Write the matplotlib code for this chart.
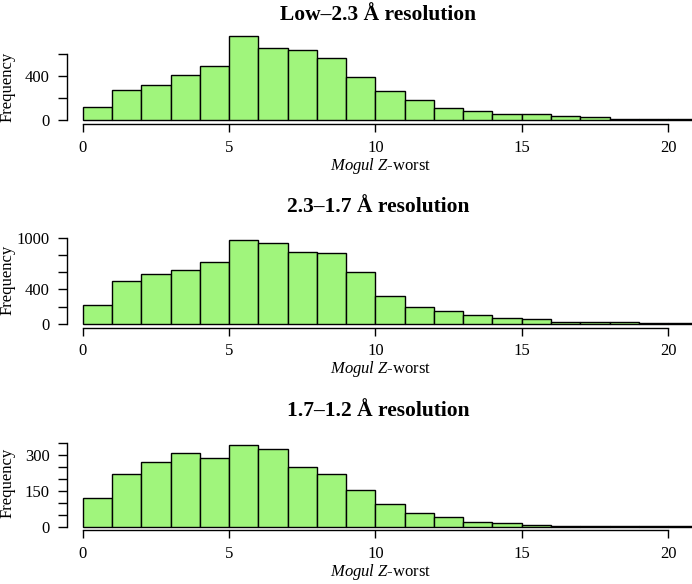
import matplotlib
matplotlib.use('Agg')
import matplotlib.pyplot as plt
import numpy as np

plt.rcParams['font.family'] = ['Liberation Serif', 'DejaVu Serif']
plt.rcParams['mathtext.fontset'] = 'custom'
plt.rcParams['mathtext.rm'] = 'Liberation Serif'
plt.rcParams['mathtext.it'] = 'Liberation Serif:italic'

# histogram data, bins of width 1 from 0 to 21
bin_edges = np.arange(0, 22)
titles = ['Low\u20132.3 \u00c5 resolution',
          '2.3\u20131.7 \u00c5 resolution',
          '1.7\u20131.2 \u00c5 resolution']
counts_low = [115, 270, 315, 406, 491, 764, 655, 633, 567, 394, 261,
              179, 106, 82, 52, 52, 33, 24, 8, 12, 10]
counts_mid = [222, 496, 574, 620, 721, 977, 942, 837, 822, 597, 329,
              198, 147, 101, 66, 54, 27, 27, 19, 12, 8]
counts_high = [121, 219, 269, 307, 285, 341, 322, 250, 220, 151, 95,
               58, 40, 19, 15, 8, 3, 5, 2, 3, 4]
yticks_low = [0, 200, 400, 600]
ylabels_low = ['0', '', '400', '']
yticks_mid = [0, 200, 400, 600, 800, 1000]
ylabels_mid = ['0', '', '400', '', '', '1000']
yticks_high = [0, 50, 100, 150, 200, 250, 300, 350]
ylabels_high = ['0', '', '', '150', '', '', '300', '']
xticks = [0, 5, 10, 15, 20]

all_counts = [counts_low, counts_mid, counts_high]
all_yticks = [yticks_low, yticks_mid, yticks_high]
all_ylabels = [ylabels_low, ylabels_mid, ylabels_high]

# layout in pixels (from top)
W, H = 692, 584
axis_px = [124.3, 327.7, 530.0]     # x-axis line
base_px = [120.0, 324.0, 526.7]     # y = 0
scale_px = [0.11, 0.0863, 0.24]     # px per count
title_px = [20.0, 212.0, 416.0]     # title baseline
ylab_px = [87.0, 279.5, 482.5]      # centre of "Frequency"
left_px = 66.7
x0_px = 82.7
xscale = 29.27
top_off = 100

fig = plt.figure(figsize=(W / 100, H / 100), dpi=100)
green = '#a0f57c'

for i in range(3):
    bottom = axis_px[i]
    top = bottom - top_off
    ax = fig.add_axes([left_px / W, 1 - bottom / H, 1 - left_px / W, top_off / H])
    ax.patch.set_alpha(0)
    ax.bar(bin_edges[:-1], all_counts[i], width=1, align='edge',
           color=green, edgecolor='black', linewidth=1.0)
    ylo = -(bottom - base_px[i]) / scale_px[i]
    yhi = (base_px[i] - top) / scale_px[i]
    ax.set_ylim(ylo, yhi)
    ax.set_xlim(-(x0_px - left_px) / xscale, (W - x0_px) / xscale)

    for s in ['top', 'right']:
        ax.spines[s].set_visible(False)
    ax.spines['left'].set_bounds(0, all_yticks[i][-1])
    ax.spines['bottom'].set_bounds(0, 20)
    ax.spines['left'].set_linewidth(1.0)
    ax.spines['bottom'].set_linewidth(1.0)

    ax.set_yticks(all_yticks[i])
    ax.set_yticklabels(all_ylabels[i])
    ax.set_xticks(xticks)
    ax.set_xticklabels([str(t) for t in xticks])
    ax.tick_params(axis='y', length=6.8, width=1.0, pad=5.6, labelsize=12)
    ax.tick_params(axis='x', length=5.4, width=1.0, pad=5.8, labelsize=12)

    fig.text(378 / W, 1 - title_px[i] / H, titles[i], ha='center', va='baseline',
             fontsize=15.5, fontweight='bold')
    fig.text(7.5 / W, 1 - ylab_px[i] / H, 'Frequency', rotation=90,
             ha='center', va='center', fontsize=12)
    fig.text(381 / W, 1 - (bottom + 41.5) / H, r'$Mogul\ Z$-worst',
             ha='center', va='center', fontsize=12)

fig.savefig('out.png', dpi=100)
